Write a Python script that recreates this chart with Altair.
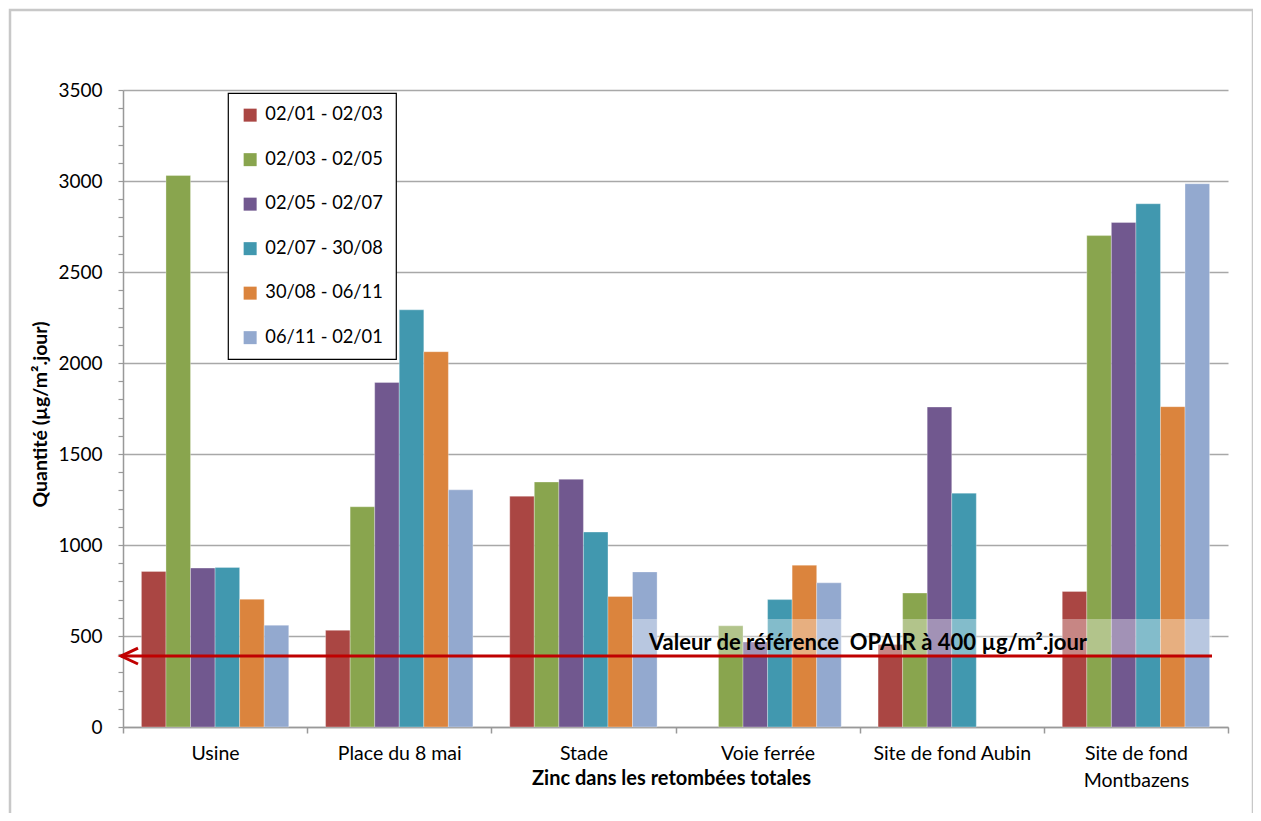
import altair as alt
import pandas as pd

categories = ["Usine", "Place du 8 mai", "Stade", "Voie ferrée",
              "Site de fond Aubin", "Site de fond Montbazens"]
periods = ["02/01 - 02/03", "02/03 - 02/05", "02/05 - 02/07",
           "02/07 - 30/08", "30/08 - 06/11", "06/11 - 02/01"]
colors = ["#AA4643", "#89A54E", "#71588F", "#4198AF", "#DB843D", "#93A9CF"]

s_0201_0203 = [855, 531, 1268, None, 453, 745]
s_0203_0205 = [3030, 1210, 1346, 556, 736, 2700]
s_0205_0207 = [873, 1893, 1361, 467, 1758, 2772]
s_0207_3008 = [877, 2292, 1071, 700, 1285, 2875]
s_3008_0611 = [702, 2062, 717, 889, None, 1760]
s_0611_0201 = [559, 1303, 852, 792, None, 2985]
series = [s_0201_0203, s_0203_0205, s_0205_0207, s_0207_3008, s_3008_0611, s_0611_0201]

y_ticks = list(range(0, 3501, 100))
ref_level = 390
ref_label = "Valeur de référence\u00a0 OPAIR à 400 µg/m².jour"
x_title = "Zinc dans les retombées totales"
y_title = "Quantité (µg/m².jour)"

rows = []
for p, vals in zip(periods, series):
    for c, v in zip(categories, vals):
        if v is not None:
            rows.append({"category": c, "period": p, "value": v})
df = pd.DataFrame(rows)

FONT = "Lato"
W, H = 1105, 637

bars = alt.Chart(df).mark_bar(stroke="white", strokeWidth=0.6, strokeOpacity=0.5).encode(
    x=alt.X("category:N", sort=categories,
            scale=alt.Scale(paddingInner=0, paddingOuter=0),
            axis=alt.Axis(title=x_title, tickBand="extent", tickSize=6,
                          tickColor="#999999", domainColor="#999999", domainWidth=1.5,
                          tickWidth=1.5, labelAngle=0, labelFontSize=19.5, labelPadding=11,
                          labelColor="#000000", labelLineHeight=27,
                          labelExpr="datum.label == 'Site de fond Montbazens' ? ['Site de fond', 'Montbazens'] : datum.label",
                          titleFontSize=20, titleFontWeight="bold", titleColor="#000000",
                          titleY=51, titleX=548, titleBaseline="middle")),
    xOffset=alt.XOffset("period:N", sort=periods,
                        scale=alt.Scale(domain=periods, paddingOuter=0.75, paddingInner=0)),
    y=alt.Y("value:Q", scale=alt.Scale(domain=[0, 3500], nice=False),
            axis=alt.Axis(title=y_title, values=y_ticks, format="d", tickCount=40,
                          labelOverlap=False,
                          labelExpr="datum.value % 500 === 0 ? datum.label : ''",
                          gridOpacity={"condition": {"test": "datum.value % 500 === 0", "value": 1}, "value": 0},
                          gridColor="#A8A8A8", gridWidth=1.5,
                          tickSize=5, tickColor="#999999", tickWidth=1.2,
                          domainColor="#999999", domainWidth=1.5,
                          labelFontSize=19, labelPadding=16, labelColor="#000000",
                          titleFontSize=19.5, titleFontWeight="bold", titleColor="#000000",
                          titleX=-83, titleY=324, titleAngle=-90, titleAlign="center",
                          titleBaseline="middle")),
    color=alt.Color("period:N", sort=periods,
                    scale=alt.Scale(domain=periods, range=colors),
                    legend=alt.Legend(title=None, orient="none", legendX=105, legendY=3,
                                      strokeColor="#000000", fillColor="white",
                                      padding=13, symbolType="square", symbolSize=169,
                                      symbolStrokeWidth=0, labelFontSize=18.3, labelColor="#000000",
                                      rowPadding=25.5, labelOffset=6)),
)

one = pd.DataFrame({"a": [0]})

frame = alt.Chart(one).mark_rect(fill="transparent", stroke="#C8C8C8", strokeWidth=2.5).encode(
    x=alt.value(-113), x2=alt.value(1130), y=alt.value(-80), y2=alt.value(760))

box = alt.Chart(one).mark_rect(fill="white", opacity=0.35).encode(
    x=alt.value(509), x2=alt.value(1089), y=alt.value(529), y2=alt.value(565))

ref_df = pd.DataFrame({"level": [ref_level], "label": [ref_label]})

ref_line = alt.Chart(ref_df).mark_rule(color="#C00000", strokeWidth=3).encode(
    y="level:Q", x=alt.value(-2), x2=alt.value(1089))

arrow = alt.Chart(ref_df).mark_point(shape="M1,-0.94L-1,0L1,0.94", size=289, filled=False,
                                     color="#C00000", strokeWidth=3, opacity=1).encode(
    y="level:Q", x=alt.value(6.5))

ref_text = alt.Chart(ref_df).mark_text(font=FONT, fontSize=22, fontWeight="bold",
                                       color="#000000", align="center", baseline="alphabetic").encode(
    text="label:N", x=alt.value(745), y=alt.value(560))

chart = alt.layer(frame, bars, box, ref_line, arrow, ref_text).properties(
    width=W, height=H,
    autosize=alt.AutoSizeParams(type="none"),
    padding={"left": 115, "top": 82, "right": 25, "bottom": 86},
).configure(font=FONT).configure_view(strokeWidth=0).configure_axis(
    labelFont=FONT, titleFont=FONT).configure_legend(labelFont=FONT, strokeWidth=1.2)

chart.save("out.html", embed_options={"renderer": "svg", "actions": False})
